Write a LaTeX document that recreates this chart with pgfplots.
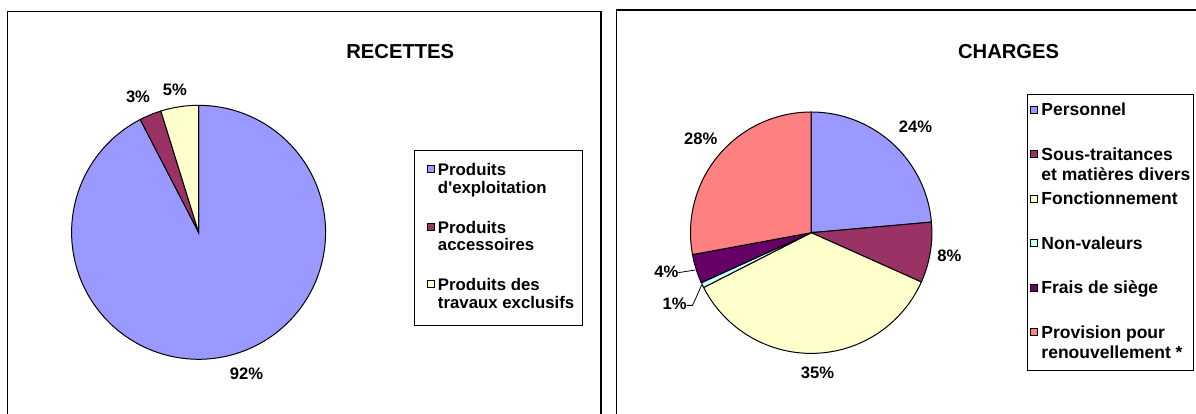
\documentclass[border=0pt]{standalone}
\usepackage{fontspec}
\defaultfontfeatures[\rmfamily]{}
\setmainfont{Liberation Sans}
\usepackage{pgfplots}
\pgfplotsset{compat=1.18}

\definecolor{cBlue}{HTML}{9999FF}
\definecolor{cMaroon}{HTML}{993366}
\definecolor{cYellow}{HTML}{FFFFCC}
\definecolor{cCyan}{HTML}{CCFFFF}
\definecolor{cPurple}{HTML}{660066}
\definecolor{cSalmon}{HTML}{FF8080}

% ---- data (percent) ----
% RECETTES
\def\RecA{92.4}\def\RecB{2.8}\def\RecC{4.8}
% CHARGES
\def\ChA{23.6}\def\ChB{8.1}\def\ChC{35.8}\def\ChD{0.7}\def\ChE{3.9}\def\ChF{27.9}

\pgfmathsetmacro\RecEa{3.6*\RecA}
\pgfmathsetmacro\RecEb{\RecEa+3.6*\RecB}
\pgfmathsetmacro\RecEc{\RecEb+3.6*\RecC}
\pgfmathsetmacro\ChEa{3.6*\ChA}
\pgfmathsetmacro\ChEb{\ChEa+3.6*\ChB}
\pgfmathsetmacro\ChEc{\ChEb+3.6*\ChC}
\pgfmathsetmacro\ChEd{\ChEc+3.6*\ChD}
\pgfmathsetmacro\ChEe{\ChEd+3.6*\ChE}
\pgfmathsetmacro\ChEf{\ChEe+3.6*\ChF}

\tikzset{pct/.style={font=\bfseries\fontsize{8.3}{10}\selectfont, inner sep=0pt, anchor=center}}
\pgfplotsset{
  slice/.style={draw=black, line width=0.5pt, variable=\t},
  piepanel/.style={
    anchor=south west, clip=false,
    axis lines=box, xtick=\empty, ytick=\empty,
    axis line style={line width=0.6pt, black},
    title style={anchor=base, inner sep=0pt, font=\bfseries\fontsize{10.1}{12}\selectfont},
    legend cell align=left,
  },
}

\begin{document}
\begin{tikzpicture}
% ================= RECETTES =================
\begin{axis}[piepanel,
  at={(3.85pt,-210pt)},
  x=63.5pt, y=63.5pt,
  xmin=-1.5031, xmax=3.1685, ymin=-1.4780, ymax=1.7370,
  title={RECETTES}, title style={at={(0.6617,0.8555)}},
  legend image code/.code={\path (0pt,0pt); \draw[#1, line width=0.5pt] (2pt,1.6pt) rectangle (5.5pt,5.1pt);},
  legend style={at={(0.6848,0.6625)}, anchor=north west, draw=black, line width=0.5pt,
    fill=white, inner xsep=4.25pt, inner ysep=3pt, row sep=4.8pt, column sep=1.5pt,
    font=\bfseries\fontsize{8.4}{8.85}\selectfont,
    nodes={inner sep=0pt, text height=9.75pt, text depth=14.3pt},
    cells={anchor=base west}},
]
\addplot[slice, fill=cBlue, domain=0:\RecEa, samples=150] ({sin(\t)},{cos(\t)}) -- (axis cs:0,0) -- cycle;
\addlegendentry{\vtop{\hbox{Produits}\hbox{d'exploitation}}}
\addplot[slice, fill=cMaroon, domain=\RecEa:\RecEb, samples=8] ({sin(\t)},{cos(\t)}) -- (axis cs:0,0) -- cycle;
\addlegendentry{\vtop{\hbox{Produits}\hbox{accessoires}}}
\addplot[slice, fill=cYellow, domain=\RecEb:\RecEc, samples=10] ({sin(\t)},{cos(\t)}) -- (axis cs:0,0) -- cycle;
\addlegendentry{\vtop{\hbox{Produits des}\hbox{travaux exclusifs}}}
\node[pct] at (axis cs:0.377,-1.118) {92\%};
\node[pct] at (axis cs:-0.477,1.068) {3\%};
\node[pct] at (axis cs:-0.186,1.124) {5\%};
\end{axis}

% ================= CHARGES =================
\begin{axis}[piepanel,
  at={(308.35pt,-210pt)},
  x=60.35pt, y=60.35pt,
  xmin=-1.6114, xmax=3.2627, ymin=-1.5518, ymax=1.8451,
  title={CHARGES}, title style={at={(0.6662,0.8525)}},
  legend image code/.code={\draw[#1, line width=0.5pt] (0pt,1.35pt) rectangle (3.5pt,4.85pt);},
  legend style={at={(0.6974,0.7939)}, anchor=north west, draw=black, line width=0.5pt,
    fill=white, inner xsep=1.5pt, inner ysep=2pt, row sep=0pt, column sep=1.5pt,
    font=\bfseries\fontsize{8.75}{10}\selectfont,
    nodes={inner sep=0pt, text height=8.35pt, text depth=13.9pt},
    cells={anchor=base west}},
]
\addplot[slice, fill=cBlue, domain=0:\ChEa, samples=60] ({sin(\t)},{cos(\t)}) -- (axis cs:0,0) -- cycle;
\addlegendentry{Personnel}
\addplot[slice, fill=cMaroon, domain=\ChEa:\ChEb, samples=20] ({sin(\t)},{cos(\t)}) -- (axis cs:0,0) -- cycle;
\addlegendentry{\vtop{\hbox{Sous-traitances}\hbox{et matières divers}}}
\addplot[slice, fill=cYellow, domain=\ChEb:\ChEc, samples=80] ({sin(\t)},{cos(\t)}) -- (axis cs:0,0) -- cycle;
\addlegendentry{Fonctionnement}
\addplot[slice, fill=cCyan, domain=\ChEc:\ChEd, samples=4] ({sin(\t)},{cos(\t)}) -- (axis cs:0,0) -- cycle;
\addlegendentry{Non-valeurs}
\addplot[slice, fill=cPurple, domain=\ChEd:\ChEe, samples=10] ({sin(\t)},{cos(\t)}) -- (axis cs:0,0) -- cycle;
\addlegendentry{Frais de siège}
\addplot[slice, fill=cSalmon, domain=\ChEe:\ChEf, samples=70] ({sin(\t)},{cos(\t)}) -- (axis cs:0,0) -- cycle;
\addlegendentry{\vtop{\hbox{Provision pour}\hbox{renouvellement *}}}
% leader lines
\addplot[black, line width=0.4pt, forget plot] coordinates {(-1.101,-0.331) (-0.960,-0.309)};
\addplot[black, line width=0.4pt, forget plot] coordinates {(-1.031,-0.602) (-0.983,-0.602) (-0.907,-0.433)};
\node[pct] at (axis cs:0.864,0.878) {24\%};
\node[pct] at (axis cs:1.144,-0.193) {8\%};
\node[pct] at (axis cs:0.053,-1.160) {35\%};
\node[pct] at (axis cs:-1.131,-0.593) {1\%};
\node[pct] at (axis cs:-1.199,-0.323) {4\%};
\node[pct] at (axis cs:-0.915,0.782) {28\%};
\end{axis}
\pgfresetboundingbox
\path[use as bounding box] (0pt,0pt) rectangle (598pt,-206.5pt);
\end{tikzpicture}
\end{document}
